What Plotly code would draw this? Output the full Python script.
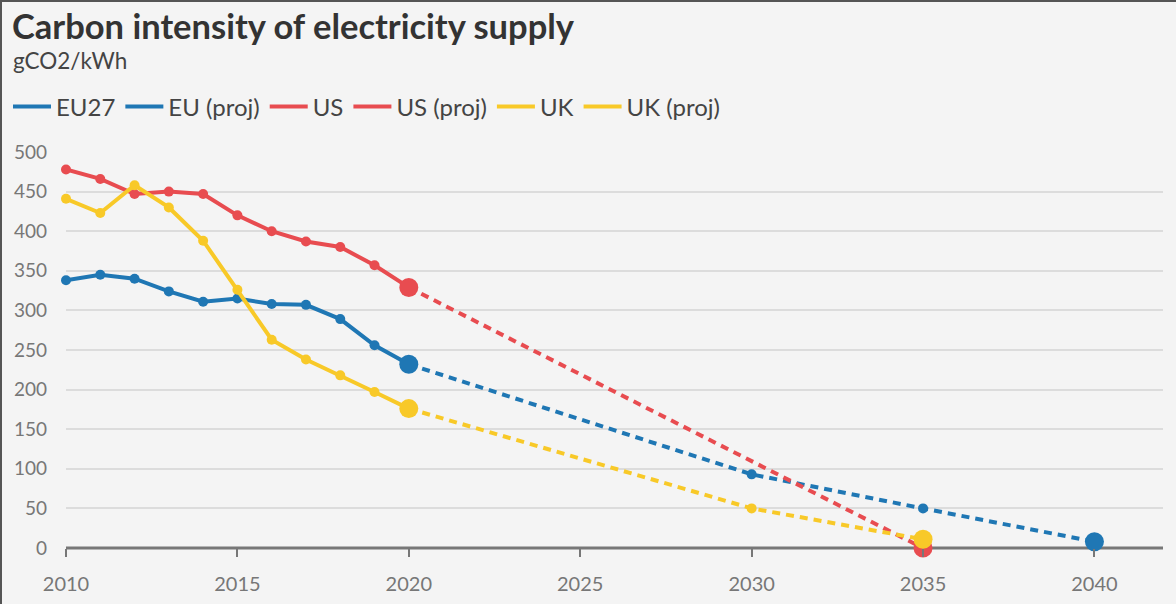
import plotly.graph_objects as go

years = [2010, 2011, 2012, 2013, 2014, 2015, 2016, 2017, 2018, 2019, 2020]
eu27 = [338, 345, 340, 324, 311, 315, 308, 307, 289, 256, 232]
us = [478, 466, 447, 450, 447, 420, 400, 387, 380, 357, 329]
uk = [441, 423, 458, 430, 388, 326, 263, 238, 218, 197, 176]

eu_proj_years = [2020, 2030, 2035, 2040]
eu_proj = [232, 93, 50, 8]
us_proj_years = [2020, 2035]
us_proj = [329, 0]
uk_proj_years = [2020, 2030, 2035]
uk_proj = [176, 50, 11]

x_ticks = [2010, 2015, 2020, 2025, 2030, 2035, 2040]
y_ticks = [0, 50, 100, 150, 200, 250, 300, 350, 400, 450, 500]

BLUE = "#1f77b4"
RED = "#e84c50"
YELLOW = "#f8c928"
FONT = "Lato"

W, H = 1176, 604
L, R, T, B = 66, 13, 152, 56
pw, ph = W - L - R, H - T - B
SMALL, BIG = 10, 19


def px_x(p):
    return (p - L) / pw


def px_y(p):
    return (H - B - p) / ph


fig = go.Figure()

series = [
    ("EU27", "EU (proj)", BLUE, years, eu27, eu_proj_years, eu_proj),
    ("US", "US (proj)", RED, years, us, us_proj_years, us_proj),
    ("UK", "UK (proj)", YELLOW, years, uk, uk_proj_years, uk_proj),
]

# projections (dotted) drawn first, beneath
for name, pname, col, xs, ys, pxs, pys in series:
    msz = [0] + [SMALL] * (len(pxs) - 2) + [BIG]
    fig.add_trace(go.Scatter(
        x=pxs, y=pys, mode="lines+markers", name=pname, cliponaxis=False,
        line=dict(color=col, width=4, dash="8px,6px"),
        marker=dict(color=col, size=msz, opacity=1, line=dict(width=0)),
        showlegend=False, legendgroup=pname, hoverinfo="x+y",
    ))

for name, pname, col, xs, ys, pxs, pys in series:
    msz = [SMALL] * (len(xs) - 1) + [BIG]
    fig.add_trace(go.Scatter(
        x=xs, y=ys, mode="lines+markers", name=name, cliponaxis=False,
        line=dict(color=col, width=4),
        marker=dict(color=col, size=msz, opacity=1, line=dict(width=0)),
        showlegend=False, legendgroup=name, hoverinfo="x+y",
    ))

# legend entries (solid swatches, like the reference)
for name, pname, col, *_ in series:
    for nm in (name, pname):
        fig.add_trace(go.Scatter(
            x=[None], y=[None], mode="lines", name=nm, legendgroup=nm,
            line=dict(color=col, width=4), showlegend=True,
        ))

fig.update_layout(
    width=W, height=H,
    margin=dict(l=L, r=R, t=T, b=B, pad=0, autoexpand=False),
    paper_bgcolor="#f4f4f4", plot_bgcolor="#f4f4f4",
    font=dict(family=FONT, color="#555555"),
    showlegend=True,
    legend=dict(
        orientation="h", x=px_x(8), xanchor="left", y=px_y(107), yanchor="middle",
        font=dict(size=24, color="#444444", family=FONT), bgcolor="rgba(0,0,0,0)",
        itemwidth=38, tracegroupgap=0, itemclick=False,
    ),
    xaxis=dict(
        range=[2010, 2042], tickmode="array", tickvals=x_ticks,
        showgrid=False, zeroline=False, showline=False, automargin=False,
        ticks="outside", ticklen=8, tickwidth=2, tickcolor="#777777",
        ticklabelstandoff=10,
        tickfont=dict(size=20, color="#777777", family=FONT),
    ),
    yaxis=dict(
        range=[0, 500], tickmode="array", tickvals=y_ticks,
        showgrid=True, gridcolor="#dcdcdc", gridwidth=2, automargin=False,
        zeroline=False, showline=False, ticks="",
        ticklabelstandoff=18,
        tickfont=dict(size=19, color="#777777", family=FONT),
    ),
    annotations=[
        dict(text="<b>Carbon intensity of electricity supply</b>", xref="paper", yref="paper",
             x=px_x(10), y=px_y(25), xanchor="left", yanchor="middle", showarrow=False,
             font=dict(size=34.5, color="#333333", family=FONT)),
        dict(text="gCO2/kWh", xref="paper", yref="paper",
             x=px_x(11), y=px_y(61), xanchor="left", yanchor="middle", showarrow=False,
             font=dict(size=22.5, color="#444444", family=FONT)),
    ],
    shapes=[
        dict(type="line", xref="paper", yref="paper", x0=0, x1=1, y0=0, y1=0,
             line=dict(color="#777777", width=3), layer="below"),
        dict(type="line", xref="paper", yref="paper", x0=px_x(0), x1=px_x(W), y0=px_y(1), y1=px_y(1),
             line=dict(color="#555555", width=2)),
        dict(type="line", xref="paper", yref="paper", x0=px_x(1), x1=px_x(1), y0=px_y(0), y1=px_y(H),
             line=dict(color="#555555", width=2)),
    ],
)

fig.write_html("out.html")
